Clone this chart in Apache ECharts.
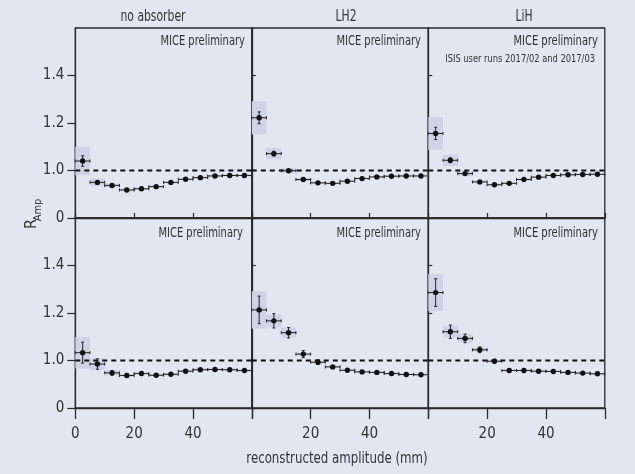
<!DOCTYPE html>
<html><head><meta charset="utf-8">
<script src="https://cdn.jsdelivr.net/npm/echarts@6/dist/echarts.min.js"></script>
<style>html,body{margin:0;padding:0;background:#e3e5f1}#c{width:635px;height:474px}</style>
</head><body><div id="c"></div>
<script>
// ---- data ----
const binCenters = [2.5, 7.5, 12.5, 17.5, 22.5, 27.5, 32.5, 37.5, 42.5, 47.5, 52.5, 57.5];
const panelTitles = ['no absorber', 'LH2', 'LiH'];
const yTickValues = [0.8, 1.0, 1.2, 1.4];
const yTickLabels = ['0', '1.0', '1.2', '1.4'];
const xTickValues = [0, 20, 40];

// top row
const noAbsTop     = [1.040, 0.950, 0.937, 0.918, 0.923, 0.932, 0.950, 0.963, 0.970, 0.977, 0.979, 0.979];
const noAbsTopStat = [0.022, 0.006, 0.004, 0.004, 0.004, 0.004, 0.004, 0.004, 0.004, 0.004, 0.004, 0.004];
const noAbsTopSys  = [0.060, 0.016, 0.008, 0.005, 0.004, 0.004, 0.004, 0.004, 0.004, 0.004, 0.004, 0.004];
const lh2Top       = [1.222, 1.071, 0.999, 0.962, 0.948, 0.946, 0.955, 0.966, 0.973, 0.976, 0.977, 0.977];
const lh2TopStat   = [0.025, 0.010, 0.005, 0.004, 0.004, 0.004, 0.004, 0.004, 0.004, 0.004, 0.004, 0.004];
const lh2TopSys    = [0.070, 0.024, 0.011, 0.006, 0.004, 0.004, 0.004, 0.004, 0.004, 0.004, 0.004, 0.004];
const lihTop       = [1.156, 1.043, 0.987, 0.952, 0.940, 0.946, 0.962, 0.972, 0.979, 0.982, 0.983, 0.984];
const lihTopStat   = [0.026, 0.010, 0.005, 0.004, 0.004, 0.004, 0.004, 0.004, 0.004, 0.004, 0.004, 0.004];
const lihTopSys    = [0.069, 0.024, 0.010, 0.005, 0.004, 0.004, 0.004, 0.004, 0.004, 0.004, 0.004, 0.004];
// bottom row
const noAbsBot     = [1.033, 0.985, 0.948, 0.937, 0.945, 0.938, 0.942, 0.955, 0.961, 0.962, 0.961, 0.958];
const noAbsBotStat = [0.044, 0.022, 0.010, 0.008, 0.005, 0.005, 0.005, 0.005, 0.005, 0.005, 0.005, 0.005];
const noAbsBotSys  = [0.066, 0.025, 0.010, 0.005, 0.005, 0.005, 0.005, 0.005, 0.005, 0.005, 0.005, 0.005];
const lh2Bot       = [1.213, 1.167, 1.117, 1.027, 0.993, 0.973, 0.959, 0.952, 0.950, 0.945, 0.941, 0.940];
const lh2BotStat   = [0.058, 0.030, 0.022, 0.015, 0.010, 0.006, 0.005, 0.005, 0.005, 0.005, 0.005, 0.005];
const lh2BotSys    = [0.079, 0.027, 0.021, 0.006, 0.005, 0.004, 0.004, 0.004, 0.004, 0.004, 0.004, 0.004];
const lihBot       = [1.286, 1.121, 1.093, 1.045, 0.997, 0.958, 0.958, 0.955, 0.954, 0.950, 0.947, 0.944];
const lihBotStat   = [0.058, 0.028, 0.018, 0.012, 0.008, 0.005, 0.005, 0.005, 0.005, 0.005, 0.005, 0.005];
const lihBotSys    = [0.078, 0.025, 0.018, 0.008, 0.006, 0.004, 0.004, 0.004, 0.004, 0.004, 0.004, 0.004];

const panels = [
  [noAbsTop, noAbsTopStat, noAbsTopSys], [lh2Top, lh2TopStat, lh2TopSys], [lihTop, lihTopStat, lihTopSys],
  [noAbsBot, noAbsBotStat, noAbsBotSys], [lh2Bot, lh2BotStat, lh2BotSys], [lihBot, lihBotStat, lihBotSys]
];

// ---- layout / style ----
const FONT = "'Liberation Sans Narrow', 'DejaVu Sans Condensed', 'Roboto', sans-serif";
const INK = '#2a2a2a';
const BG = '#e3e5f1';
const BOX = '#d0d3e7';
const colLeft = [75.3, 251.8, 428.3];
const colW = 176.5;
const rowTop = [28, 218];
const rowH = 190;
const BIN_HALF = 2.5;

const grids = [], xAxes = [], yAxes = [], series = [];
for (let p = 0; p < 6; p++) {
  const row = Math.floor(p / 3), col = p % 3;
  grids.push({left: colLeft[col], top: rowTop[row], width: colW, height: rowH,
    show: true, borderColor: INK, borderWidth: 1.3, backgroundColor: 'transparent', containLabel: false});
  xAxes.push({type: 'value', gridIndex: p, min: 0, max: 60, interval: 20,
    axisLine: {show: true, onZero: false, lineStyle: {color: INK, width: 1.3}},
    splitLine: {show: false},
    axisTick: row === 0 ? {show: true, inside: true, length: 5, lineStyle: {color: INK, width: 1.2}}
                        : {show: true, inside: false, length: 11, lineStyle: {color: INK, width: 1.3}},
    axisLabel: row === 0 ? {show: false} : {show: true, margin: 19, color: '#333', fontFamily: FONT, fontSize: 15,
      formatter: v => (v === 60 || (col > 0 && v === 0)) ? '' : String(v)}
  });
  yAxes.push({type: 'value', gridIndex: p, min: 0.8, max: 1.6, interval: 0.2,
    axisLine: {show: true, onZero: false, lineStyle: {color: INK, width: 1.3}},
    splitLine: {show: false},
    axisTick: col === 0 ? {show: true, inside: false, length: 8, customValues: yTickValues, lineStyle: {color: INK, width: 1.2}}
                        : {show: true, inside: true, length: 4, customValues: yTickValues, lineStyle: {color: INK, width: 1.2}},
    axisLabel: col === 0 ? {show: true, margin: 11, color: '#333', fontFamily: FONT, fontSize: 15,
      customValues: yTickValues,
      formatter: v => { const i = yTickValues.findIndex(t => Math.abs(t - v) < 1e-6); return i >= 0 ? yTickLabels[i] : ''; }}
      : {show: false}
  });
  const [vals, stat, sys] = panels[p];
  const data = binCenters.map((x, i) => [x, vals[i], stat[i], sys[i]]);
  // systematic boxes
  series.push({type: 'custom', xAxisIndex: p, yAxisIndex: p, z: 1, silent: true, data: data,
    renderItem: (params, api) => {
      const x = api.value(0), y = api.value(1), s = api.value(3);
      const a = api.coord([x - BIN_HALF, y + s]), b = api.coord([x + BIN_HALF, y - s]);
      return {type: 'rect', shape: {x: a[0], y: a[1], width: b[0] - a[0], height: b[1] - a[1]},
        style: {fill: BOX}};
    }});
  // reference line at 1
  series.push({type: 'line', xAxisIndex: p, yAxisIndex: p, z: 2, silent: true, symbol: 'none',
    data: [[0, 1], [60, 1]], lineStyle: {color: '#111', width: 2, type: [5, 4]}});
  // points with error bars
  series.push({type: 'custom', xAxisIndex: p, yAxisIndex: p, z: 3, silent: true, data: data,
    renderItem: (params, api) => {
      const x = api.value(0), y = api.value(1), st = api.value(2);
      const c = api.coord([x, y]);
      const l = api.coord([x - BIN_HALF, y]), r = api.coord([x + BIN_HALF, y]);
      const t = api.coord([x, y + st]), b = api.coord([x, y - st]);
      const ls = {stroke: '#222', lineWidth: 1};
      const cap = 1.5;
      return {type: 'group', children: [
        {type: 'line', shape: {x1: l[0], y1: l[1], x2: r[0], y2: r[1]}, style: ls},
        {type: 'line', shape: {x1: l[0], y1: l[1] - cap, x2: l[0], y2: l[1] + cap}, style: ls},
        {type: 'line', shape: {x1: r[0], y1: r[1] - cap, x2: r[0], y2: r[1] + cap}, style: ls},
        {type: 'line', shape: {x1: t[0], y1: t[1], x2: b[0], y2: b[1]}, style: ls},
        {type: 'line', shape: {x1: t[0] - cap, y1: t[1], x2: t[0] + cap, y2: t[1]}, style: ls},
        {type: 'line', shape: {x1: b[0] - cap, y1: b[1], x2: b[0] + cap, y2: b[1]}, style: ls},
        {type: 'circle', shape: {cx: c[0], cy: c[1], r: 2.7}, style: {fill: '#111'}}
      ]};
    }});
}

const txt = (x, y, text, size, align, sx, extra) => Object.assign({type: 'text', x: x, y: y, scaleX: sx, silent: true,
  style: {text: text, fontFamily: FONT, fontSize: size, fill: '#333', align: align, verticalAlign: 'middle'}}, extra || {});

const graphics = [
  txt(153, 17, panelTitles[0], 15, 'center', 0.8),
  txt(346, 17, panelTitles[1], 15, 'center', 0.8),
  txt(524, 17, panelTitles[2], 15, 'center', 0.8),
  txt(245, 41, 'MICE preliminary', 14, 'right', 0.79),
  txt(421, 41, 'MICE preliminary', 14, 'right', 0.79),
  txt(598, 41, 'MICE preliminary', 14, 'right', 0.79),
  txt(595, 59, 'ISIS user runs 2017/02 and 2017/03', 11, 'right', 0.84),
  txt(243, 233, 'MICE preliminary', 14, 'right', 0.79),
  txt(421, 233, 'MICE preliminary', 14, 'right', 0.79),
  txt(598, 233, 'MICE preliminary', 14, 'right', 0.79),
  txt(337, 459, 'reconstructed amplitude (mm)', 16, 'center', 0.82),
  {type: 'text', x: 32, y: 224, rotation: Math.PI / 2, silent: true,
    style: {text: 'R', fontFamily: FONT, fontSize: 16, fill: '#333', align: 'center', verticalAlign: 'middle'}},
  {type: 'text', x: 38, y: 210, rotation: Math.PI / 2, silent: true,
    style: {text: 'Amp', fontFamily: FONT, fontSize: 11, fill: '#333', align: 'center', verticalAlign: 'middle'}}
];

const chart = echarts.init(document.getElementById('c'), null, {renderer: 'canvas'});
chart.setOption({
  backgroundColor: BG,
  animation: false,
  grid: grids, xAxis: xAxes, yAxis: yAxes, series: series,
  graphic: graphics
});
</script></body></html>
